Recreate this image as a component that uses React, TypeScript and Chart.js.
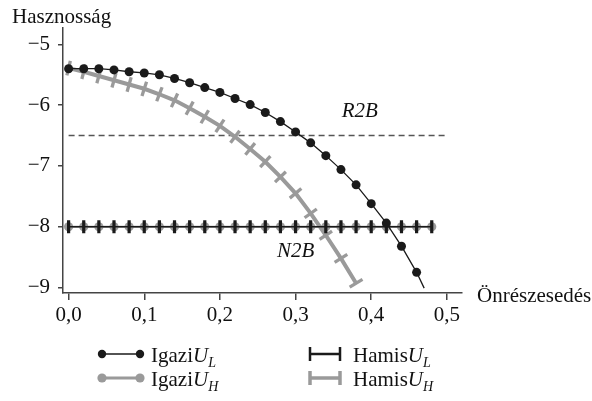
import React, { useEffect, useRef } from "react";
import { Chart, registerables } from "chart.js";

Chart.register(...registerables);

// ---- data ----
const igaziULx = [0, 0.02, 0.04, 0.06, 0.08, 0.1, 0.12, 0.14, 0.16, 0.18, 0.2, 0.22, 0.24, 0.26, 0.28, 0.3, 0.32, 0.34, 0.36, 0.38, 0.4, 0.42, 0.44, 0.46, 0.47];
const igaziULy = [-5.4, -5.4, -5.4, -5.42, -5.45, -5.47, -5.5, -5.56, -5.63, -5.71, -5.79, -5.89, -5.99, -6.12, -6.27, -6.44, -6.62, -6.83, -7.06, -7.31, -7.62, -7.94, -8.32, -8.75, -9.01];

const hamisUHx = [0, 0.02, 0.04, 0.06, 0.08, 0.1, 0.12, 0.14, 0.16, 0.18, 0.2, 0.22, 0.24, 0.26, 0.28, 0.3, 0.32, 0.34, 0.36, 0.38];
const hamisUHy = [-5.39, -5.45, -5.52, -5.59, -5.66, -5.73, -5.82, -5.92, -6.05, -6.19, -6.34, -6.52, -6.72, -6.93, -7.18, -7.45, -7.78, -8.14, -8.52, -8.93];

const flatX = [0, 0.02, 0.04, 0.06, 0.08, 0.1, 0.12, 0.14, 0.16, 0.18, 0.2, 0.22, 0.24, 0.26, 0.28, 0.3, 0.32, 0.34, 0.36, 0.38, 0.4, 0.42, 0.44, 0.46, 0.48];
const igaziUHy = flatX.map(() => -8.0);
const hamisULy = flatX.map(() => -8.0);

const r2bX = [0, 0.5];
const r2bY = [-6.5, -6.5];

const xTickValues = [0, 0.1, 0.2, 0.3, 0.4, 0.5];
const xTickLabels = ["0,0", "0,1", "0,2", "0,3", "0,4", "0,5"];
const yTickValues = [-9, -8, -7, -6, -5];
const yTickLabels = ["\u22129", "\u22128", "\u22127", "\u22126", "\u22125"];

const annotations = [
  { text: "R2B", x: 0.385, y: -6.11 },
  { text: "N2B", x: 0.3, y: -8.41 },
];

const BLACK = "#1a1a1a";
const GRAY = "#9a9a9a";
const AXIS = "#444444";
const FONT = "'Liberation Serif', 'Times New Roman', serif";

function pts(xs: number[], ys: number[]) {
  return xs.map((x, i) => ({ x, y: ys[i] }));
}

const textPlugin = {
  id: "texts",
  afterDraw(chart: any) {
    const ctx = chart.ctx as CanvasRenderingContext2D;
    const xs = chart.scales.x;
    const ys = chart.scales.y;
    ctx.save();
    ctx.fillStyle = "#111";
    ctx.font = `21px ${FONT}`;
    ctx.textAlign = "left";
    ctx.textBaseline = "alphabetic";
    ctx.fillText("Hasznosság", 12, 23);
    ctx.textBaseline = "middle";
    ctx.fillText("Önrészesedés", 477, 296);

    ctx.font = `italic 21px ${FONT}`;
    ctx.textAlign = "center";
    for (const a of annotations) {
      ctx.fillText(a.text, xs.getPixelForValue(a.x), ys.getPixelForValue(a.y));
    }

    // legend
    const drawLabel = (x: number, y: number, word: string, sub: string) => {
      ctx.textAlign = "left";
      ctx.textBaseline = "alphabetic";
      ctx.font = `21px ${FONT}`;
      ctx.fillText(word, x, y);
      let w = ctx.measureText(word).width;
      ctx.font = `italic 21px ${FONT}`;
      ctx.fillText("U", x + w, y);
      w += ctx.measureText("U").width;
      ctx.font = `italic 14px ${FONT}`;
      ctx.fillText(sub, x + w, y + 5);
    };
    const dotLine = (x0: number, x1: number, y: number, color: string, lw: number, r: number) => {
      ctx.strokeStyle = color;
      ctx.lineWidth = lw;
      ctx.beginPath();
      ctx.moveTo(x0, y);
      ctx.lineTo(x1, y);
      ctx.stroke();
      ctx.fillStyle = color;
      for (const x of [x0, x1]) {
        ctx.beginPath();
        ctx.arc(x, y, r, 0, Math.PI * 2);
        ctx.fill();
      }
    };
    const barLine = (x0: number, x1: number, y: number, color: string, lw: number) => {
      ctx.strokeStyle = color;
      ctx.lineWidth = lw;
      ctx.beginPath();
      ctx.moveTo(x0, y);
      ctx.lineTo(x1, y);
      ctx.moveTo(x0, y - 7);
      ctx.lineTo(x0, y + 7);
      ctx.moveTo(x1, y - 7);
      ctx.lineTo(x1, y + 7);
      ctx.stroke();
    };
    dotLine(102, 140, 354, BLACK, 1.5, 4.2);
    dotLine(102, 140, 378, GRAY, 3, 4.6);
    barLine(310, 340, 354, BLACK, 2.5);
    barLine(310, 340, 378, GRAY, 3.5);
    ctx.fillStyle = "#111";
    drawLabel(151, 362, "Igazi", "L");
    drawLabel(151, 386, "Igazi", "H");
    drawLabel(353, 362, "Hamis", "L");
    drawLabel(353, 386, "Hamis", "H");
    ctx.restore();
  },
};

function perpRotation(xsData: number[], ysData: number[]) {
  return (c: any) => {
    const chart = c.chart;
    const i = c.dataIndex;
    if (i === undefined || !chart.scales || !chart.scales.x) return 0;
    const n = xsData.length;
    const i0 = Math.max(0, i - 1);
    const i1 = Math.min(n - 1, i + 1);
    const sx = chart.scales.x;
    const sy = chart.scales.y;
    const dx = sx.getPixelForValue(xsData[i1]) - sx.getPixelForValue(xsData[i0]);
    const dy = sy.getPixelForValue(ysData[i1]) - sy.getPixelForValue(ysData[i0]);
    return (Math.atan2(dy, dx) * 180) / Math.PI + 90;
  };
}

export default function App() {
  const ref = useRef<HTMLCanvasElement | null>(null);
  useEffect(() => {
    if (!ref.current) return;
    const chart = new Chart(ref.current, {
      type: "line",
      data: {
        datasets: [
          {
            label: "Hamis U_L",
            data: pts(flatX, hamisULy),
            borderColor: BLACK,
            borderWidth: 1.5,
            pointStyle: "line",
            pointRadius: 6.5,
            pointRotation: 90,
            pointBorderColor: BLACK,
            pointBorderWidth: 3.2,
            order: 1,
          },
          {
            label: "Igazi U_H",
            data: pts(flatX, igaziUHy),
            borderColor: GRAY,
            borderWidth: 2,
            pointStyle: "circle",
            pointRadius: 4.6,
            pointBackgroundColor: GRAY,
            pointBorderColor: GRAY,
            pointBorderWidth: 0,
            order: 2,
          },
          {
            label: "Igazi U_L",
            data: pts(igaziULx, igaziULy),
            borderColor: BLACK,
            borderWidth: 1.3,
            pointStyle: "circle",
            pointRadius: (c: any) => (c.dataIndex === igaziULx.length - 1 ? 0 : 4.5),
            pointBackgroundColor: BLACK,
            pointBorderColor: BLACK,
            pointBorderWidth: 0,
            order: 0,
          },
          {
            label: "Hamis U_H",
            data: pts(hamisUHx, hamisUHy),
            borderColor: GRAY,
            borderWidth: 4,
            pointStyle: "line",
            pointRadius: 7.5,
            pointRotation: perpRotation(hamisUHx, hamisUHy),
            pointBorderColor: GRAY,
            pointBorderWidth: 3.3,
            order: 3,
          },
          {
            label: "R2B",
            data: pts(r2bX, r2bY),
            borderColor: "#555555",
            borderWidth: 1.5,
            borderDash: [6, 4],
            pointRadius: 0,
            order: 4,
          },
        ],
      },
      options: {
        animation: false,
        responsive: false,
        events: [],
        layout: { padding: { left: 0, top: 28, right: 130, bottom: 0 } },
        plugins: {
          legend: { display: false },
          tooltip: { enabled: false },
          title: { display: false },
        },
        elements: { line: { tension: 0 } },
        scales: {
          x: {
            type: "linear",
            min: -0.0074,
            max: 0.52,
            afterFit: (s: any) => {
              s.height = 108;
            },
            afterBuildTicks: (s: any) => {
              s.ticks = xTickValues.map((v) => ({ value: v }));
            },
            ticks: {
              autoSkip: false,
              maxRotation: 0,
              padding: 3,
              color: "#111",
              font: { family: FONT, size: 21 },
              callback: (v: any) => {
                const i = xTickValues.findIndex((t) => Math.abs(t - Number(v)) < 1e-9);
                return i >= 0 ? xTickLabels[i] : "";
              },
            },
            grid: { drawOnChartArea: false, drawTicks: true, tickLength: 7, color: AXIS, lineWidth: 1.5 },
            border: { color: AXIS, width: 1.5 },
          },
          y: {
            type: "linear",
            min: -9.09,
            max: -4.73,
            afterFit: (s: any) => {
              s.width = 63;
            },
            afterBuildTicks: (s: any) => {
              s.ticks = yTickValues.map((v) => ({ value: v }));
            },
            ticks: {
              autoSkip: false,
              padding: 8,
              color: "#111",
              font: { family: FONT, size: 21 },
              callback: (v: any) => {
                const i = yTickValues.findIndex((t) => Math.abs(t - Number(v)) < 1e-9);
                return i >= 0 ? yTickLabels[i] : "";
              },
            },
            grid: { drawOnChartArea: false, drawTicks: true, tickLength: 5, color: AXIS, lineWidth: 1.5 },
            border: { color: AXIS, width: 1.5 },
          },
        },
      },
      plugins: [textPlugin],
    } as any);
    return () => chart.destroy();
  }, []);
  return (
    <div style={{ position: "absolute", left: 0, top: 0, width: 592, height: 401, background: "#fff" }}>
      <canvas ref={ref} width={592} height={401} style={{ display: "block", width: 592, height: 401 }} />
    </div>
  );
}
